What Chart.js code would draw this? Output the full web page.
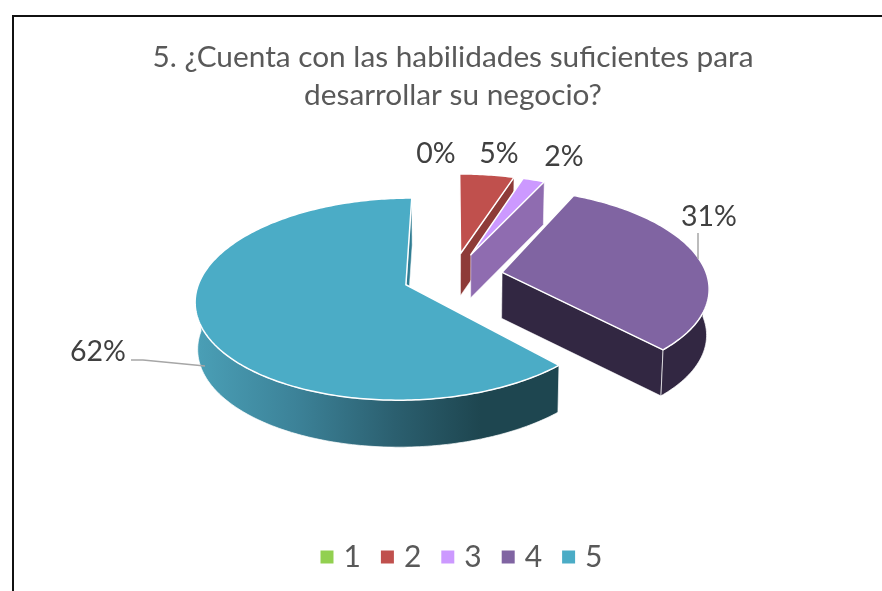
<!DOCTYPE html>
<html><head><meta charset="utf-8">
<style>html,body{margin:0;padding:0;background:#fff}canvas{display:block}</style>
<script src="https://cdn.jsdelivr.net/npm/chart.js@4/dist/chart.umd.min.js"></script>
</head><body><canvas id="c" width="882" height="591"></canvas>
<script>
const categories = ['1','2','3','4','5'];
const values = [0, 5, 2, 31, 62];
const topColors = ['#92D050','#C0504D','#CC99FF','#8064A2','#4BACC6'];
const wallColors = ['#6E9C3C','#8E3B38','#8F6CB0','#322742','#2F7C92'];
const chartTitle = ['5. ¿Cuenta con las habilidades suficientes para','desarrollar su negocio?'];

const VIEW = {cx:453, cy:276, p:0.000683, t:0.471, depths:[47,42,43,46,47], shrink:0.99, offset:50};
const LABELS = [[436,154],[499,154],[564,157],[709,217],[98,352]];
function proj(u,v,d){
  const w = 1 - v*VIEW.p;
  const s = d ? VIEW.shrink : 1;
  return [VIEW.cx + s*u/w, VIEW.cy + v*VIEW.t/w + d];
}
function poly(ctx,pts){ctx.beginPath();pts.forEach((q,i)=>i?ctx.lineTo(q[0],q[1]):ctx.moveTo(q[0],q[1]));ctx.closePath();}
const pie3d = {
  id:'pie3d',
  beforeDraw(chart){
    const ctx=chart.ctx;ctx.save();
    ctx.fillStyle='#fff';ctx.fillRect(0,0,chart.width,chart.height);
    ctx.strokeStyle='#111';ctx.lineWidth=2;
    ctx.beginPath();ctx.moveTo(13,591);ctx.lineTo(13,16);ctx.lineTo(882,16);ctx.stroke();
    ctx.restore();
  },
  afterLayout(chart){ const l=chart.legend; l.left+=11; l.right+=11; l.top-=9; l.bottom-=9; },
  beforeDatasetDraw(chart,args){
    const ctx=chart.ctx, arcs=chart.getDatasetMeta(args.index).data;
    ctx.save();
    arcs.forEach((arc,i)=>{
      const a=arc.startAngle,b=arc.endAngle,R=arc.outerRadius,D=VIEW.depths[i];
      if(b-a<1e-4) return;
      const mid=(a+b)/2, off=arc.options.offset;
      const ox=Math.cos(mid)*off, oy=Math.sin(mid)*off;
      const rim=(ang,d)=>proj(ox+R*Math.cos(ang),oy+R*Math.sin(ang),d);
      const apex=d=>proj(ox,oy,d);
      const N=Math.ceil((b-a)*60);
      const wall=(i===4)?(()=>{const g=ctx.createLinearGradient(197,0,480,0);
        g.addColorStop(0,'#4A9FB6');g.addColorStop(.35,'#3C8298');g.addColorStop(.7,'#2B5F6F');g.addColorStop(1,'#1E4650');return g;})():wallColors[i];
      ctx.lineJoin='round';
      if(Math.cos(b)>-0.01){
        poly(ctx,[apex(0),rim(b,0),rim(b,D),apex(D)]);
        ctx.fillStyle=wallColors[i];ctx.fill();
        ctx.strokeStyle='rgba(255,255,255,.5)';ctx.lineWidth=1;ctx.stroke();
      }
      const front=[];
      for(let k=0;k<=N;k++){const an=a+(b-a)*k/N;if(Math.sin(an)>=-0.02)front.push(an);}
      if(front.length>1){
        const pts=front.map(an=>rim(an,0)).concat(front.slice().reverse().map(an=>rim(an,D)));
        poly(ctx,pts);ctx.fillStyle=wall;ctx.fill();
        ctx.strokeStyle='rgba(255,255,255,.7)';ctx.lineWidth=1;ctx.stroke();
      }
      const top=[apex(0)];
      for(let k=0;k<=N;k++)top.push(rim(a+(b-a)*k/N,0));
      poly(ctx,top);
      ctx.fillStyle=arc.options.backgroundColor;ctx.fill();
      ctx.strokeStyle=arc.options.borderColor;ctx.lineWidth=arc.options.borderWidth;ctx.stroke();
    });
    ctx.restore();
    return false;
  },
  afterDatasetsDraw(chart){
    const ctx=chart.ctx;ctx.save();
    ctx.strokeStyle='#A6A6A6';ctx.lineWidth=1.5;
    ctx.beginPath();ctx.moveTo(131,360);ctx.lineTo(143,360);ctx.lineTo(205,366);
    ctx.moveTo(698,233);ctx.lineTo(698,259);ctx.stroke();
    ctx.fillStyle='#404040';ctx.font='28.5px Lato';ctx.textAlign='center';ctx.textBaseline='middle';
    values.forEach((v,i)=>ctx.fillText(v+'%',LABELS[i][0],LABELS[i][1]));
    ctx.restore();
  }
};
new Chart(document.getElementById('c'),{
  type:'pie',
  data:{labels:categories,datasets:[{data:values,backgroundColor:topColors,borderColor:'#fff',borderWidth:1.5,offset:VIEW.offset,radius:205}]},
  options:{
    responsive:false,animation:false,rotation:0,
    layout:{padding:{left:24,right:0,top:0,bottom:0}},
    plugins:{
      title:{display:true,text:chartTitle,color:'#595959',font:{family:'Lato',size:29.8,weight:'normal',lineHeight:1.275},padding:{top:38,bottom:10}},
      legend:{position:'bottom',labels:{color:'#595959',font:{family:'Lato',size:30},boxWidth:3,boxHeight:3,padding:25,
        generateLabels:c=>Chart.overrides.pie.plugins.legend.labels.generateLabels(c).map(l=>({...l,strokeStyle:l.fillStyle,lineWidth:10}))}},
      tooltip:{enabled:false}
    }
  },
  plugins:[pie3d]
});
</script></body></html>
